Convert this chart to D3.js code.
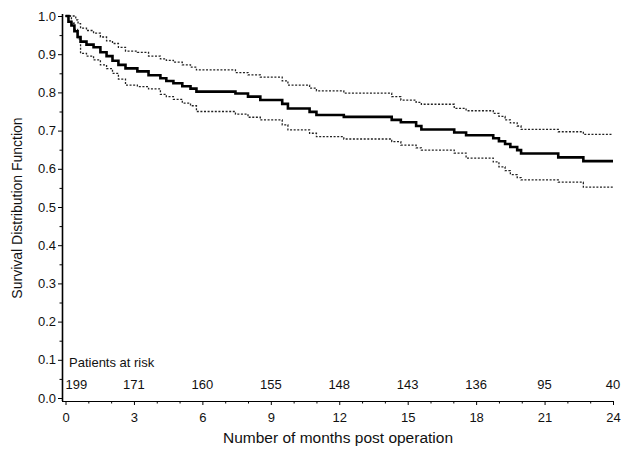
<!DOCTYPE html>
<html>
<head>
<meta charset="utf-8">
<script src="https://cdn.jsdelivr.net/npm/d3@7"></script>
<style>
  body { margin: 0; background: #fff; }
  svg { font-family: "Liberation Sans", Arial, sans-serif; }
</style>
</head>
<body>
<div id="holder"></div>
<script>
// survival estimate (months, S(t))
const mainTimes = [0, 0.13, 0.26, 0.39, 0.53, 0.66, 0.92, 1.23, 1.53, 1.8, 2.06, 2.32, 2.63, 3.15, 3.64, 4.16, 4.42, 4.73, 5.12, 5.48, 5.74, 7.45, 8.0, 8.54, 9.5, 9.75, 10.7, 11.0, 12.2, 14.3, 14.7, 15.37, 15.6, 17.04, 17.56, 18.75, 19.0, 19.27, 19.5, 19.8, 19.97, 21.6, 22.7, 24];
const mainSurv  = [1, 0.985, 0.975, 0.96, 0.945, 0.933, 0.925, 0.918, 0.905, 0.895, 0.883, 0.872, 0.863, 0.855, 0.845, 0.837, 0.83, 0.824, 0.816, 0.81, 0.802, 0.797, 0.789, 0.78, 0.77, 0.758, 0.749, 0.741, 0.736, 0.728, 0.722, 0.712, 0.703, 0.695, 0.688, 0.68, 0.672, 0.665, 0.657, 0.649, 0.64, 0.63, 0.62, 0.62];

// upper confidence limit
const upperTimes = [0, 0.45, 0.55, 0.66, 0.92, 1.23, 1.53, 1.8, 2.06, 2.32, 2.63, 3.15, 3.64, 4.16, 4.42, 4.73, 5.12, 5.48, 5.74, 7.45, 8.0, 8.54, 9.5, 9.75, 10.7, 11.0, 12.2, 14.3, 14.7, 15.37, 15.6, 17.04, 17.56, 18.75, 19.0, 19.27, 19.5, 19.8, 19.97, 21.6, 22.7, 24];
const upperSurv  = [1, 0.99, 0.98, 0.968, 0.962, 0.955, 0.945, 0.935, 0.928, 0.918, 0.908, 0.905, 0.895, 0.888, 0.884, 0.879, 0.872, 0.866, 0.859, 0.852, 0.846, 0.84, 0.83, 0.819, 0.811, 0.804, 0.798, 0.789, 0.78, 0.774, 0.769, 0.758, 0.752, 0.745, 0.737, 0.728, 0.72, 0.712, 0.703, 0.697, 0.69, 0.69];

// lower confidence limit
const lowerTimes = [0, 0.26, 0.39, 0.53, 0.66, 0.92, 1.23, 1.53, 1.8, 2.06, 2.32, 2.63, 3.15, 3.64, 4.16, 4.42, 4.73, 5.12, 5.48, 5.74, 7.45, 8.0, 8.54, 9.5, 9.75, 10.7, 11.0, 12.2, 14.3, 14.7, 15.37, 15.6, 17.04, 17.56, 18.75, 19.0, 19.27, 19.5, 19.8, 19.97, 21.6, 22.7, 24];
const lowerSurv  = [1, 0.981, 0.965, 0.94, 0.902, 0.895, 0.885, 0.872, 0.862, 0.85, 0.835, 0.819, 0.815, 0.809, 0.795, 0.789, 0.782, 0.772, 0.765, 0.75, 0.743, 0.735, 0.728, 0.715, 0.702, 0.693, 0.684, 0.678, 0.671, 0.662, 0.655, 0.649, 0.641, 0.628, 0.618, 0.605, 0.595, 0.585, 0.577, 0.571, 0.565, 0.552, 0.552];

const monthTicks = [0, 3, 6, 9, 12, 15, 18, 21, 24];
const atRisk = [199, 171, 160, 155, 148, 143, 136, 95, 40];
const survTicks = [0, 0.1, 0.2, 0.3, 0.4, 0.5, 0.6, 0.7, 0.8, 0.9, 1.0];

const width = 622;
const height = 456;

const svg = d3.select("#holder")
    .append("svg")
    .attr("width", width)
    .attr("height", height);

const xScale = d3.scaleLinear().domain([0, 24]).range([65.5, 613]);
const yScale = d3.scaleLinear().domain([0, 1]).range([398, 16]);
const axisY = 401;
const axisX = 62;

// x axis
const xAxis = d3.axisBottom(xScale)
    .tickValues(monthTicks)
    .tickSize(4)
    .tickSizeOuter(0)
    .tickPadding(8)
    .tickFormat(d3.format("d"));
const gx = svg.append("g")
    .attr("transform", `translate(0, ${axisY})`)
    .call(xAxis);
gx.select(".domain").attr("d", `M${axisX},0.5H${xScale(24)}`);
gx.selectAll(".tick text").style("font-size", "13px").attr("fill", "#111");

svg.append("g")
    .attr("transform", `translate(0, ${axisY})`)
    .selectAll("line")
    .data(d3.range(1, 24).filter(m => m % 3 !== 0))
    .enter()
    .append("line")
    .attr("x1", m => xScale(m) + 0.5)
    .attr("x2", m => xScale(m) + 0.5)
    .attr("y1", 0)
    .attr("y2", 2.5)
    .attr("stroke", "#000");

// y axis
const yAxis = d3.axisLeft(yScale)
    .tickValues(survTicks)
    .tickSize(4)
    .tickSizeOuter(0)
    .tickPadding(2)
    .tickFormat(d3.format(".1f"));
const gy = svg.append("g")
    .attr("transform", `translate(${axisX}, 0)`)
    .call(yAxis);
gy.select(".domain").attr("d", `M0.5,${yScale(1) - 2}V${axisY}`).attr("stroke-width", 1.6);
gy.selectAll(".tick text").style("font-size", "13px").attr("fill", "#111");

svg.append("g")
    .attr("transform", `translate(${axisX}, 0)`)
    .selectAll("line")
    .data(d3.range(0.05, 1, 0.1))
    .enter()
    .append("line")
    .attr("x1", 0)
    .attr("x2", -2.5)
    .attr("y1", d => yScale(d) + 0.5)
    .attr("y2", d => yScale(d) + 0.5)
    .attr("stroke", "#000");

// axis titles
svg.append("text")
    .attr("x", 338)
    .attr("y", 443)
    .attr("text-anchor", "middle")
    .style("font-size", "15.5px")
    .attr("fill", "#111")
    .text("Number of months post operation");

svg.append("text")
    .attr("transform", `translate(22, 208) rotate(-90)`)
    .attr("text-anchor", "middle")
    .style("font-size", "14px")
    .attr("fill", "#111")
    .text("Survival Distribution Function");

// patients at risk
svg.append("text")
    .attr("x", 69)
    .attr("y", 367)
    .style("font-size", "13px")
    .attr("fill", "#111")
    .text("Patients at risk");

svg.append("g")
    .selectAll("text")
    .data(atRisk)
    .enter()
    .append("text")
    .attr("x", (d, i) => xScale(monthTicks[i]))
    .attr("y", 389)
    .attr("text-anchor", (d, i) => i === 0 ? "start" : "middle")
    .style("font-size", "13px")
    .attr("fill", "#111")
    .text(d => d);

// curves
const step = d3.line()
    .x(d => xScale(d[0]))
    .y(d => yScale(d[1]))
    .curve(d3.curveStepAfter);

const zip = (t, s) => t.map((v, i) => [v, s[i]]);

svg.append("path")
    .datum(zip(upperTimes, upperSurv))
    .attr("d", step)
    .attr("fill", "none")
    .attr("stroke", "#222")
    .attr("stroke-width", 1.3)
    .attr("stroke-dasharray", "2,1.6");

svg.append("path")
    .datum(zip(lowerTimes, lowerSurv))
    .attr("d", step)
    .attr("fill", "none")
    .attr("stroke", "#222")
    .attr("stroke-width", 1.3)
    .attr("stroke-dasharray", "2,1.6");

svg.append("path")
    .datum(zip(mainTimes, mainSurv))
    .attr("d", step)
    .attr("fill", "none")
    .attr("stroke", "#000")
    .attr("stroke-width", 2.6);
</script>
</body>
</html>
